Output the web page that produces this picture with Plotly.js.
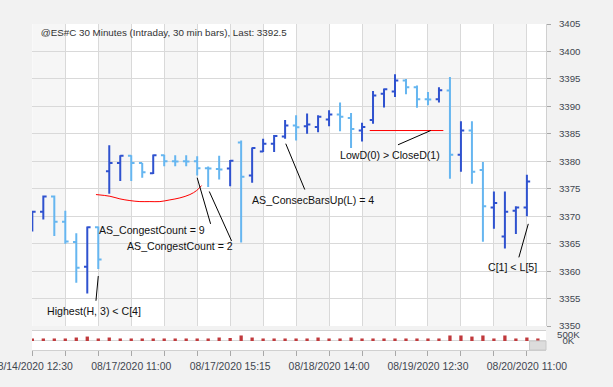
<!DOCTYPE html>
<html><head><meta charset="utf-8">
<script src="https://cdn.plot.ly/plotly-3.0.1.min.js"></script>
<style>html,body{margin:0;padding:0;background:#f2f2f2;}#chart{width:613px;height:387px;}</style>
</head><body><div id="chart"></div>
<script>
const FONT = 'Liberation Sans, Arial, sans-serif';

// bar index (30-min bars)
const barIndex = [0,1,2,3,4,5,6,7,8,9,10,11,12,13,14,15,16,17,18,19,20,21,22,23,24,25,26,27,28,29,30,31,32,33,34,35,36,37,38,39,40,41,42,43,44,45];
const opens  = [3368.5,3370.8,3373.6,3369.0,3365.3,3360.8,3368.0,3378.2,3379.7,3381.0,3379.7,3377.8,3381.1,3380.0,3380.0,3380.0,3378.75,3378.6,3378.7,3383.4,3377.4,3381.8,3383.2,3384.5,3386.5,3386.4,3386.25,3387.6,3388.5,3387.9,3385.6,3387.5,3392.3,3392.7,3394.7,3393.5,3391.3,3391.3,3392.9,3381.2,3385.6,3378.4,3371.6,3366.3,3371.0,3371.6];
const highs  = [3371.0,3373.75,3373.75,3371.0,3366.9,3368.1,3368.1,3382.9,3381.1,3381.1,3379.7,3381.25,3381.2,3381.1,3381.1,3380.9,3379.05,3381.0,3380.25,3383.8,3382.5,3384.1,3384.8,3387.5,3388.4,3388.7,3388.4,3389.3,3390.7,3388.8,3387.0,3392.8,3393.25,3395.85,3395.0,3393.8,3392.6,3393.5,3395.35,3387.3,3387.3,3379.85,3374.5,3374.5,3371.8,3377.55];
const lows   = [3367.2,3369.4,3366.4,3365.0,3357.9,3355.9,3360.4,3374.1,3376.4,3376.4,3377.0,3377.7,3379.1,3379.1,3379.1,3377.4,3375.3,3376.7,3375.45,3365.2,3376.1,3381.7,3381.7,3384.1,3383.8,3385.0,3385.3,3386.4,3385.45,3382.4,3383.6,3386.85,3389.8,3391.7,3392.2,3389.75,3390.2,3390.7,3376.8,3378.1,3375.9,3365.35,3367.7,3364.1,3366.75,3370.0];
const closes = [3370.8,3373.6,3369.0,3365.4,3360.6,3368.0,3362.1,3379.7,3381.0,3379.7,3378.0,3381.1,3380.0,3379.95,3379.95,3378.75,3378.7,3378.5,3380.1,3377.2,3382.4,3383.2,3384.6,3386.5,3386.2,3386.7,3388.1,3388.5,3388.1,3385.9,3386.25,3392.0,3393.1,3394.7,3393.5,3391.3,3391.25,3392.95,3381.2,3385.6,3378.1,3371.8,3372.4,3370.8,3371.6,3376.3];

// volume panel
const volIndex = [0,1,2,3,4,5,6,7,8,9,10,11,12,13,14,15,16,17,18,19,20,21,22,23,24,25,26,27,28,29,30,31,32,33,34,35,36,37,38,39,40,41,42,43,44,45,46];
const volumes  = [210000,210000,210000,210000,290000,370000,210000,290000,210000,210000,210000,210000,210000,210000,210000,210000,210000,290000,250000,460000,290000,210000,210000,210000,210000,210000,290000,210000,210000,290000,210000,210000,210000,210000,210000,210000,210000,210000,460000,460000,370000,460000,210000,460000,210000,290000,210000];

// x axis ticks
const tickIdx = [0,3,6,9,12,15,18,21,24,27,30,33,36,39,42,45];
const tickLabels = ['08/14/2020 12:30','','','08/17/2020 11:00','','','08/17/2020 15:15','','','08/18/2020 14:00','','','08/19/2020 12:30','','','08/20/2020 11:00'];

// price ticks
const priceTicks = [3350,3355,3360,3365,3370,3375,3380,3385,3390,3395,3400,3405];
const volTicks = [0, 500000];
const volTickText = ['\u00a0\u00a00K', '500K'];

// drawing tools: red curve (congestion), red horizontal (LowD vs CloseD)
const curveX = [5.79,7.06,7.97,8.88,9.79,10.70,11.61,12.52,13.43,14.34,14.95,15.4];
const curveY = [3373.94,3373.63,3373.15,3372.84,3372.66,3372.66,3372.66,3372.97,3373.33,3373.94,3374.67,3375.58];
const lowDX = [30.7, 37.4];
const lowDY = [3385.6, 3385.6];

// text notes
const noteText = ['Highest(H, 3) < C[4]','AS_CongestCount = 9','AS_CongestCount = 2','AS_ConsecBarsUp(L) = 4','LowD(0) > CloseD(1)','C[1] < L[5]'];
const noteX = [5.59, 10.85, 13.45, 25.5, 32.5, 43.65];
const noteY = [3352.7, 3367.5, 3364.6, 3373.0, 3381.06, 3360.8];
// leader lines [x0, y0, x1, y1]
const leaderX0 = [6.0, 15.0, 16.1, 23.06, 33.27, 45.13];
const leaderY0 = [3359.1, 3377.0, 3374.5, 3383.2, 3383.0, 3368.6];
const leaderX1 = [5.79, 16.22, 18.13, 24.79, 36.25, 44.27];
const leaderY1 = [3354.6, 3368.6, 3365.5, 3374.85, 3385.6, 3362.5];

const XR = [-0.03, 46.74];
const GRID = '#d9d9d9';

const shapes = [];
for (let k = 0; k < tickIdx.length; k += 2) {
  shapes.push({type:'rect', xref:'x', yref:'y', layer:'below',
    x0: tickIdx[k], x1: (k+1 < tickIdx.length ? tickIdx[k+1] : XR[1]),
    y0: 3350, y1: 3405, fillcolor:'#f6f6f6', line:{width:0}});
}
for (let i = 0; i < leaderX0.length; i++) {
  shapes.push({type:'line', xref:'x', yref:'y', x0:leaderX0[i], y0:leaderY0[i], x1:leaderX1[i], y1:leaderY1[i], line:{color:'#000000', width:1}});
}
// scroll box at bottom right of volume pane
shapes.push({type:'rect', xref:'paper', yref:'paper', x0:0.968, x1:1, y0:0, y1:0.0276, fillcolor:'#dcdcdc', line:{color:'#c8c8c8', width:1}});

const annotations = noteText.map((t, i) => ({
  text: t, x: noteX[i], y: noteY[i], xref:'x', yref:'y', showarrow:false,
  font:{family:FONT, size:10.6, color:'#111111'}
}));

const traces = [
  {type:'ohlc', x:barIndex, open:opens, high:highs, low:lows, close:closes,
   xaxis:'x', yaxis:'y', tickwidth:0.3, hoverinfo:'skip',
   increasing:{line:{color:'#2f52cf', width:2}},
   decreasing:{line:{color:'#66b6f0', width:2}}},
  {type:'scatter', mode:'lines', x:curveX, y:curveY, xaxis:'x', yaxis:'y',
   line:{color:'#ff0000', width:1, shape:'spline'}, hoverinfo:'skip'},
  {type:'scatter', mode:'lines', x:lowDX, y:lowDY, xaxis:'x', yaxis:'y',
   line:{color:'#ff0000', width:1}, hoverinfo:'skip'},
  {type:'bar', x:volIndex, y:volumes, xaxis:'x2', yaxis:'y2', width:0.3,
   marker:{color:'#c0393c'}, hoverinfo:'skip'}
];

const layout = {
  width:613, height:387,
  margin:{l:32, r:67, t:24, b:37, pad:0},
  paper_bgcolor:'#f2f2f2', plot_bgcolor:'#ffffff',
  showlegend:false,
  font:{family:FONT, size:9.7, color:'#3f4650'},
  title:{text:'@ES#C 30 Minutes (Intraday, 30 min bars), Last: 3392.5',
    xref:'container', yref:'container', x:40.7/613, xanchor:'left',
    y:1-32.3/387, yanchor:'middle', font:{family:FONT, size:9.8, color:'#333333'}},
  xaxis:{domain:[0,1], range:XR, anchor:'y', tickvals:tickIdx, showticklabels:false,
    ticks:'', showgrid:true, gridcolor:GRID, gridwidth:1, zeroline:false,
    rangeslider:{visible:false}, fixedrange:true},
  xaxis2:{domain:[0,1], range:XR, anchor:'y2', tickvals:tickIdx, ticktext:tickLabels,
    ticks:'outside', ticklen:5, tickcolor:'#a8a8a8', showgrid:false,
    showline:true, mirror:true, linecolor:'#d0d0d0', zeroline:false,
    ticklabeloverflow:'allow', ticklabelstandoff:2,
    tickfont:{family:FONT, size:10.4, color:'#3f4650'}, fixedrange:true},
  yaxis:{domain:[0.0736,1], range:[3350,3405], anchor:'x', side:'right',
    tickvals:priceTicks, gridcolor:GRID, gridwidth:1, ticks:'outside', ticklen:4,
    tickcolor:'#a8a8a8', showline:true, linecolor:'#d0d0d0', zeroline:false,
    ticklabelstandoff:6, fixedrange:true},
  yaxis2:{domain:[0,0.0583], range:[-750000,833333], anchor:'x2', side:'right',
    tickvals:volTicks, ticktext:volTickText, showgrid:false, zeroline:true,
    zerolinecolor:'#d8d8d8', ticks:'', ticklabelstandoff:10, fixedrange:true},
  shapes:shapes, annotations:annotations
};

Plotly.newPlot('chart', traces, layout, {displayModeBar:false, staticPlot:true});
</script></body></html>
